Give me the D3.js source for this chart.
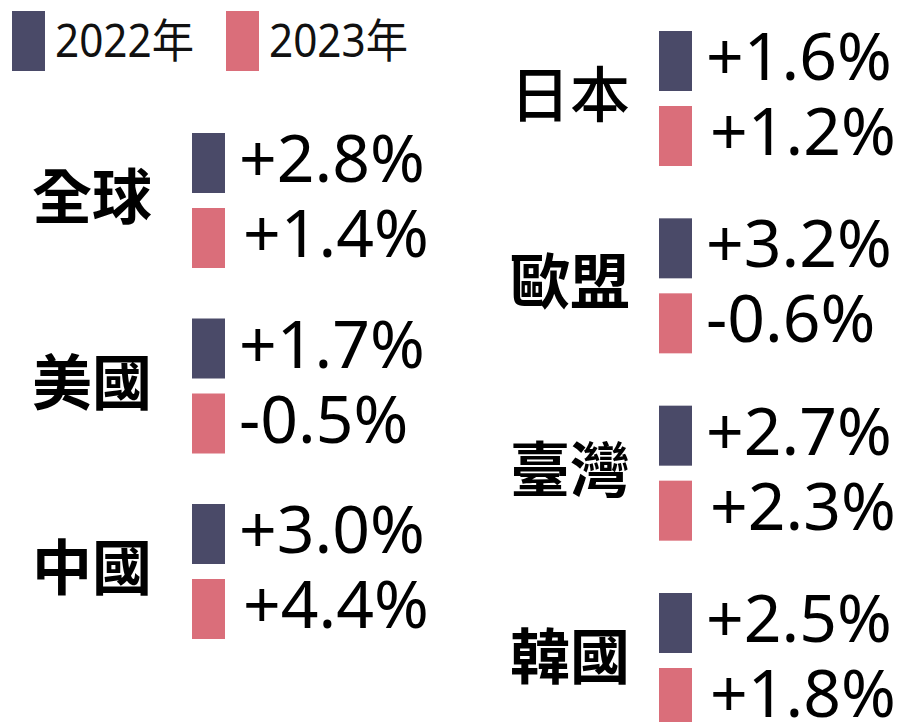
<!DOCTYPE html>
<html>
<head>
<meta charset="utf-8">
<script src="https://cdn.jsdelivr.net/npm/d3@7"></script>
<style>
  body { margin: 0; background: #ffffff; }
  svg { display: block; }
</style>
</head>
<body>
<div id="chart"></div>
<script>
// Data
const years = ["2022年", "2023年"];
const leftRegions = ["全球", "美國", "中國"];
const rightRegions = ["日本", "歐盟", "臺灣", "韓國"];
const growth2022 = [2.8, 1.7, 3.0, 1.6, 3.2, 2.7, 2.5];
const growth2023 = [1.4, -0.5, 4.4, 1.2, -0.6, 2.3, 1.8];

// colours for each year
const color = d3.scaleOrdinal()
    .domain(years)
    .range(["#4a4a68", "#da6e7a"]);

const width = 907;
const height = 722;

const svg = d3.select("#chart").append("svg")
    .attr("width", width)
    .attr("height", height);

const allRegions = leftRegions.concat(rightRegions);
const rows = allRegions.map((r, i) => ({
    region: r,
    values: [growth2022[i], growth2023[i]],
    column: leftRegions.includes(r) ? "left" : "right"
}));

// the two columns, each has its own vertical scale
const columns = {
    left:  { squareX: 192, labelX: 152, y: d3.scalePoint().domain(leftRegions).range([133, 504]) },
    right: { squareX: 659, labelX: 630, y: d3.scalePoint().domain(rightRegions).range([31, 593]) }
};

// position of the two squares inside a row
const inner = d3.scaleBand()
    .domain(years)
    .range([0, 135])
    .paddingInner(0.2);

const squareW = 33;
const fmt = v => (v < 0 ? "-" : "+") + Math.abs(v).toFixed(1) + "%";
const regularLabels = ["日本"]; // this label is drawn in normal weight in the original

// Legend
const legend = svg.append("g");
const legendX = d3.scalePoint().domain(years).range([12, 226]);
years.forEach(y => {
    legend.append("rect")
        .attr("x", legendX(y))
        .attr("y", 11)
        .attr("width", squareW)
        .attr("height", inner.bandwidth())
        .attr("fill", color(y));
    legend.append("text")
        .attr("x", legendX(y) + squareW + 10)
        .attr("y", 57)
        .attr("font-family", "'Noto Sans', 'Noto Sans CJK TC', sans-serif")
        .attr("font-size", 46)
        .attr("textLength", 139)
        .attr("lengthAdjust", "spacingAndGlyphs")
        .attr("fill", "#111")
        .text(y);
});

// Rows
const row = svg.selectAll("g.row")
    .data(rows)
    .enter().append("g")
    .attr("class", "row")
    .attr("transform", d => `translate(0, ${columns[d.column].y(d.region)})`);

row.append("text")
    .attr("x", d => columns[d.column].labelX)
    .attr("y", inner.range()[1] / 2 - 3)
    .attr("dy", "0.36em")
    .attr("text-anchor", "end")
    .attr("font-family", "'Noto Sans CJK TC', 'Noto Sans CJK SC', sans-serif")
    .attr("font-weight", d => regularLabels.includes(d.region) ? 500 : 700)
    .attr("font-size", 60)
    .attr("fill", "#000")
    .text(d => d.region);

row.each(function(d) {
    const g = d3.select(this);
    const x0 = columns[d.column].squareX;
    years.forEach((y, i) => {
        g.append("rect")
            .attr("x", x0)
            .attr("y", inner(y))
            .attr("width", squareW)
            .attr("height", inner.bandwidth())
            .attr("fill", color(y));
        g.append("text")
            .attr("x", x0 + squareW + (i === 1 && d.values[i] > 0 ? 18 : 14))
            .attr("y", inner(y) + 49)
            .attr("font-family", "'Noto Sans', sans-serif")
            .attr("font-size", 66)
            .attr("fill", "#000")
            .text(fmt(d.values[i]));
    });
});
</script>
</body>
</html>
